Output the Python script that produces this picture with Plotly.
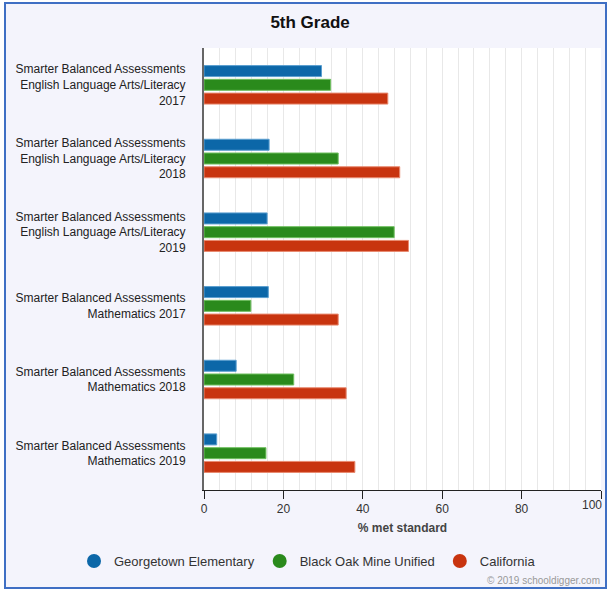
import plotly.graph_objects as go

categories = [
    "Smarter Balanced Assessments<br>English Language Arts/Literacy<br>2017",
    "Smarter Balanced Assessments<br>English Language Arts/Literacy<br>2018",
    "Smarter Balanced Assessments<br>English Language Arts/Literacy<br>2019",
    "Smarter Balanced Assessments<br>Mathematics 2017",
    "Smarter Balanced Assessments<br>Mathematics 2018",
    "Smarter Balanced Assessments<br>Mathematics 2019",
]
series_names = ["Georgetown Elementary", "Black Oak Mine Unified", "California"]
georgetown = [29.6, 16.4, 15.9, 16.2, 8.1, 3.2]
black_oak = [31.9, 33.8, 47.9, 11.8, 22.6, 15.6]
california = [46.3, 49.3, 51.5, 33.8, 35.8, 38.0]
x_ticks = [0, 20, 40, 60, 80, 100]
x_tick_text = ["0", "20", "40", "60", "80", ""]

colors = ["#0c67a8", "#2a8a1c", "#c8340f"]
line_colors = ["#5b9fd0", "#6fbf5f", "#e88a70"]
values = [georgetown, black_oak, california]

W, H = 608, 590
L, R, T, B = 204, 7, 48, 100
pw, ph = W - L - R, H - T - B

def px_x(x):
    return (x - L) / pw

def px_y(y):
    return (H - B - y) / ph

fig = go.Figure()
for name, vals, c, lc in zip(series_names, values, colors, line_colors):
    fig.add_trace(go.Bar(
        y=categories, x=vals, orientation="h", name=name,
        marker=dict(color=c, line=dict(color=lc, width=1)),
        showlegend=False, hoverinfo="x+name",
    ))
for name, c in zip(series_names, colors):
    fig.add_trace(go.Scatter(
        x=[None], y=[None], mode="markers", name=name,
        marker=dict(color=c, size=14, symbol="circle"),
        showlegend=True,
    ))

fig.add_shape(type="rect", xref="paper", yref="paper",
              x0=px_x(5), x1=px_x(606), y0=px_y(588), y1=px_y(3),
              fillcolor="#f4f4fc", line=dict(color="#3f6fc4", width=2), layer="below")
fig.add_shape(type="rect", xref="paper", yref="paper",
              x0=0, x1=1, y0=0, y1=1,
              fillcolor="#ffffff", line=dict(width=0), layer="below")

fig.update_layout(
    width=W, height=H,
    margin=dict(l=L, r=R, t=T, b=B),
    paper_bgcolor="#ffffff",
    plot_bgcolor="rgba(0,0,0,0)",
    barmode="group",
    bargap=0.44,
    bargroupgap=0.2,
    font=dict(family="Liberation Sans, Arial, sans-serif", size=12, color="#222222"),
    title=dict(text="<b>5th Grade</b>", x=0.51, xref="container", xanchor="center",
               y=1 - 22 / H, yref="container", yanchor="middle",
               font=dict(size=17, color="#111111")),
    legend=dict(orientation="h", xref="paper", yref="paper",
                x=px_x(74), xanchor="left", y=px_y(561), yanchor="middle",
                font=dict(size=13, color="#333333"), bgcolor="rgba(0,0,0,0)"),
    xaxis=dict(range=[0, 100], tickvals=x_ticks, ticktext=x_tick_text,
               ticks="outside", ticklen=8, tickcolor="#222",
               showline=True, linecolor="#222", linewidth=1,
               showgrid=True, gridcolor="#e8e8e8", zeroline=False,
               minor=dict(dtick=4, showgrid=True, gridcolor="#e8e8e8"),
               tickfont=dict(size=12, color="#333333"),
               title=dict(text="<b>% met standard</b>", font=dict(size=12, color="#444444"), standoff=8),
               fixedrange=True),
    yaxis=dict(autorange="reversed", showline=True, linecolor="#666666", linewidth=2,
               ticks="", ticklabelstandoff=14, tickfont=dict(size=12, color="#222222"),
               showgrid=False, fixedrange=True),
    annotations=[
        dict(text="© 2019 schooldigger.com", xref="paper", yref="paper",
             x=px_x(602), y=px_y(580), xanchor="right", yanchor="middle",
             showarrow=False, font=dict(size=10, color="#999999")),
        dict(text=str(x_ticks[-1]), xref="x", yref="paper",
             x=x_ticks[-1], y=px_y(505), xanchor="right", yanchor="middle", xshift=3,
             showarrow=False, font=dict(size=12, color="#333333")),
    ],
)

fig.write_html("out.html", config={"displayModeBar": False},
               post_script="document.body.style.margin='0';document.body.style.padding='0';document.body.style.overflow='hidden';")
